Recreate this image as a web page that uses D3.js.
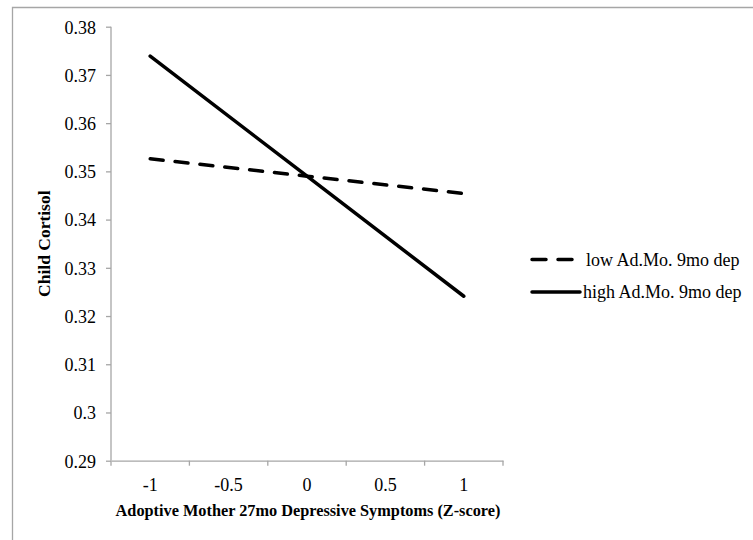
<!DOCTYPE html>
<html>
<head>
<meta charset="utf-8">
<style>
    body { margin: 0; background: #fff; }
    svg { display: block; }
    text { font-family: "Liberation Serif", "Times New Roman", serif; fill: #000; }
    .tick text { font-size: 18px; }
    .tick line, .domain { stroke: #a6a6a6; stroke-width: 1.3; }
    .axis-title { font-weight: bold; }
    .legend text { font-size: 18px; }
</style>
</head>
<body>
<svg width="753" height="540"></svg>

<script src="https://d3js.org/d3.v7.min.js"></script>
<script>
    // data
    let categories = ["-1", "-0.5", "0", "0.5", "1"]
    let yTicks = [0.29, 0.30, 0.31, 0.32, 0.33, 0.34, 0.35, 0.36, 0.37, 0.38]
    let pointCats = ["-1", "0", "1"]
    let lowValues = [0.3526, 0.3490, 0.3454]
    let highValues = [0.3739, 0.3490, 0.3241]
    let seriesNames = ["low Ad.Mo. 9mo dep", "high Ad.Mo. 9mo dep"]

    let svg = d3.select("svg")

    let margin = { top: 26.7, right: 250, bottom: 79.3, left: 111 }
    let width = 753, height = 540

    // outer chart border (top and left only visible)
    svg.append("path")
        .attr("d", "M12.5,560 L12.5,7.5 L760,7.5")
        .attr("fill", "none")
        .attr("stroke", "#a6a6a6")
        .attr("stroke-width", 1.3)

    let x = d3.scaleBand()
        .domain(categories)
        .range([margin.left, 503])

    let y = d3.scaleLinear()
        .domain([0.29, 0.38])
        .range([height - margin.bottom, margin.top])

    let xAxis = svg.append("g")
        .attr("class", "x axis")
        .attr("transform", `translate(0,${y(0.29)})`)
        .call(d3.axisBottom(x).tickSize(0).tickPadding(18))

    // excel-style ticks between categories
    xAxis.selectAll(".between")
        .data(d3.range(categories.length + 1))
        .join("line")
        .attr("class", "between")
        .attr("x1", i => margin.left + i * x.step())
        .attr("x2", i => margin.left + i * x.step())
        .attr("y1", 0)
        .attr("y2", 5)
        .attr("stroke", "#a6a6a6")
        .attr("stroke-width", 1.3)

    let yAxis = svg.append("g")
        .attr("class", "y axis")
        .attr("transform", `translate(${margin.left},0)`)
        .call(d3.axisLeft(y)
            .tickValues(yTicks)
            .tickSize(5)
            .tickPadding(10)
            .tickFormat(d => d3.format(".2f")(d).replace(/0$/, "").replace(/\.$/, "")))
        .call(g => g.select(".domain").attr("d", `M0,${y(0.29)}V${y(0.38)}`))

    yAxis.selectAll(".tick text").attr("dy", "0.35em")

    let line = d3.line()
        .x((d, i) => x(pointCats[i]) + x.bandwidth() / 2)
        .y(d => y(d))

    svg.append("path")
        .datum(lowValues)
        .attr("fill", "none")
        .attr("stroke", "#000")
        .attr("stroke-width", 3.5)
        .attr("stroke-dasharray", "13,12")
        .attr("stroke-linecap", "round")
        .attr("d", line)

    svg.append("path")
        .datum(highValues)
        .attr("fill", "none")
        .attr("stroke", "#000")
        .attr("stroke-width", 3.5)
        .attr("stroke-linecap", "round")
        .attr("d", line)

    // axis titles
    svg.append("text")
        .attr("class", "axis-title")
        .attr("x", 308)
        .attr("y", 516)
        .attr("text-anchor", "middle")
        .style("font-size", "16.3px")
        .text("Adoptive Mother 27mo Depressive Symptoms (Z-score)")

    svg.append("text")
        .attr("class", "axis-title")
        .attr("transform", `translate(50,${(y(0.29) + y(0.38)) / 2}) rotate(-90)`)
        .attr("text-anchor", "middle")
        .style("font-size", "17.5px")
        .text("Child Cortisol")

    // legend
    let legend = svg.selectAll(".legend")
        .data(seriesNames)
        .join("g")
        .attr("class", "legend")
        .attr("transform", (d, i) => `translate(532,${259.5 + i * 32.5})`)

    legend.append("line")
        .attr("x1", 0)
        .attr("x2", 48)
        .attr("stroke", "#000")
        .attr("stroke-width", 3.5)
        .attr("stroke-dasharray", (d, i) => i == 0 ? "14,12" : null)
        .attr("stroke-linecap", "round")

    legend.append("text")
        .attr("x", (d, i) => i == 0 ? 54 : 51)
        .attr("y", 0)
        .attr("dy", "0.35em")
        .text(d => d)
</script>
</body>
</html>
